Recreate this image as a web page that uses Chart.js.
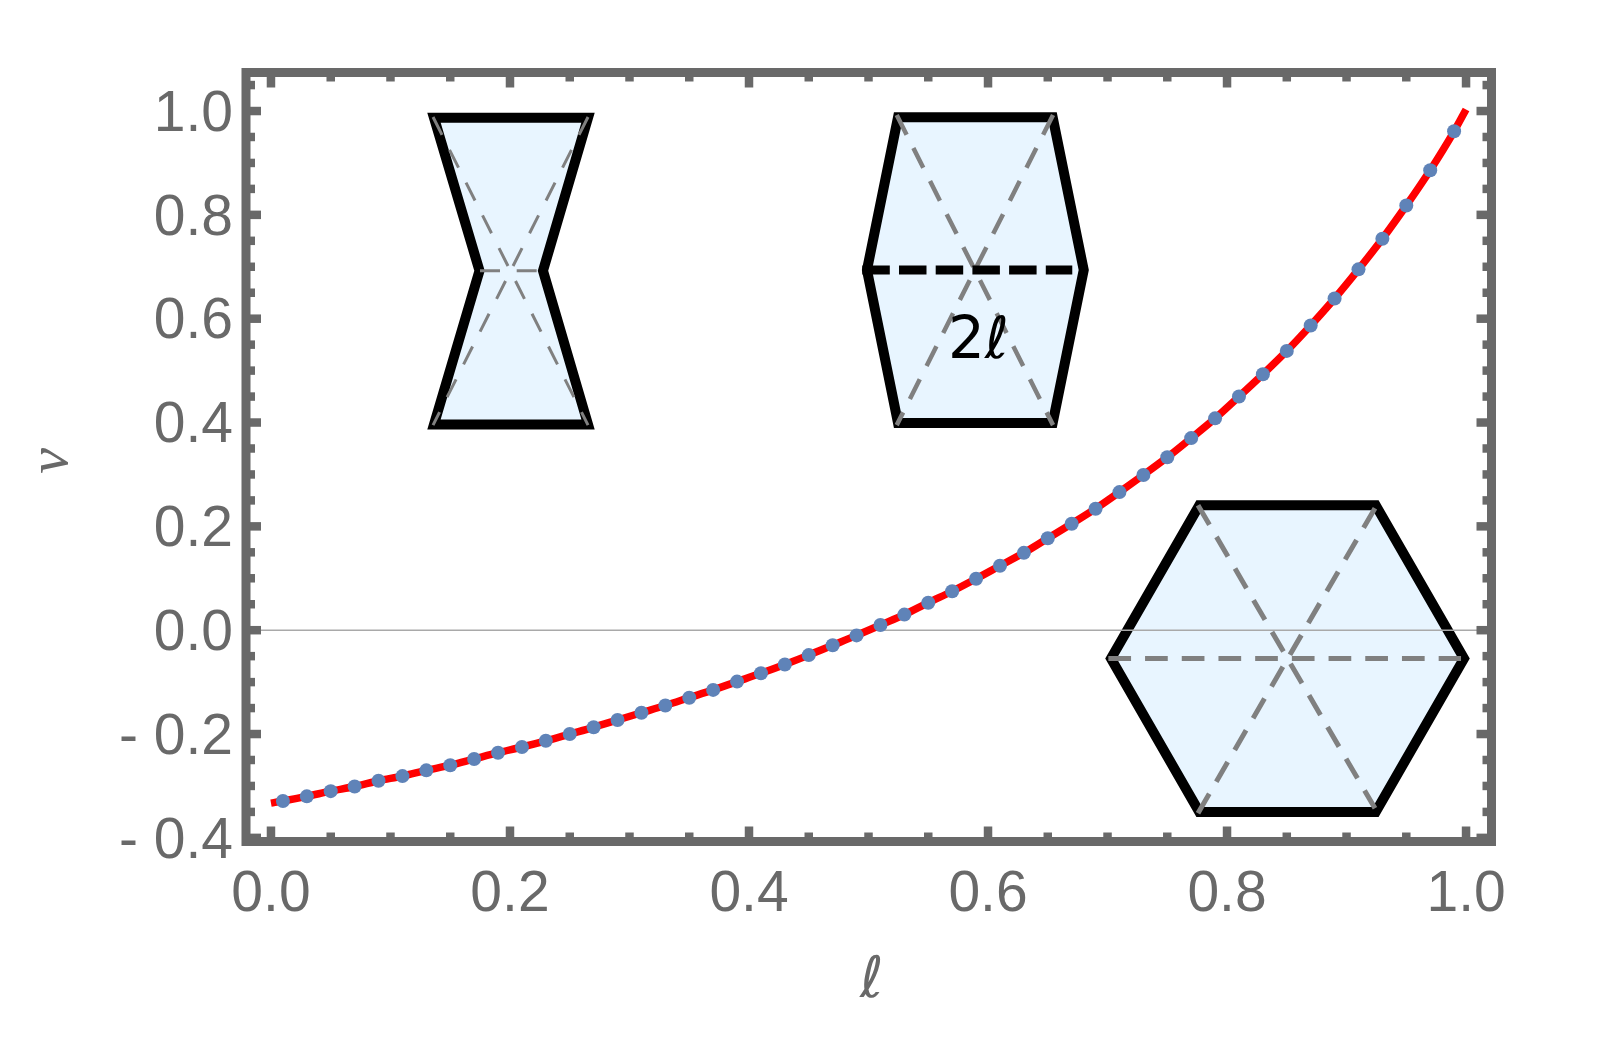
<!DOCTYPE html>
<html>
<head>
<meta charset="utf-8">
<title>nu vs l</title>
<script src="https://cdn.jsdelivr.net/npm/chart.js@4/dist/chart.umd.min.js"></script>
<style>
  html, body { margin: 0; padding: 0; background: #fff; }
  canvas { display: block; }
</style>
</head>
<body>
<canvas id="chart" width="1616" height="1037"></canvas>
<script>
// values
const pointL = [0.01, 0.03, 0.05, 0.07, 0.09, 0.11, 0.13, 0.15, 0.17, 0.19,
  0.21, 0.23, 0.25, 0.27, 0.29, 0.31, 0.33, 0.35, 0.37, 0.39,
  0.41, 0.43, 0.45, 0.47, 0.49, 0.51, 0.53, 0.55, 0.57, 0.59,
  0.61, 0.63, 0.65, 0.67, 0.69, 0.71, 0.73, 0.75, 0.77, 0.79,
  0.81, 0.83, 0.85, 0.87, 0.89, 0.91, 0.93, 0.95, 0.97, 0.99];
const pointNu = [-0.329, -0.320, -0.310, -0.301, -0.290, -0.281, -0.270, -0.260, -0.248, -0.236,
  -0.225, -0.213, -0.200, -0.187, -0.173, -0.159, -0.145, -0.130, -0.115, -0.099,
  -0.083, -0.066, -0.048, -0.029, -0.010, 0.010, 0.030, 0.053, 0.075, 0.099,
  0.124, 0.149, 0.177, 0.205, 0.234, 0.266, 0.299, 0.333, 0.370, 0.408,
  0.450, 0.493, 0.538, 0.587, 0.639, 0.695, 0.754, 0.818, 0.886, 0.961];
const curveStartL = [0.0];
const curveStartNu = [-0.333];
const curveEndL = [1.0];
const curveEndNu = [1.003];

const xTicks = [0, 0.2, 0.4, 0.6, 0.8, 1.0];
const xTickLabels = ['0.0', '0.2', '0.4', '0.6', '0.8', '1.0'];
const xMinor = [0.05, 0.1, 0.15, 0.25, 0.3, 0.35, 0.45, 0.5, 0.55, 0.65, 0.7, 0.75, 0.85, 0.9, 0.95];
const yTicks = [-0.4, -0.2, 0, 0.2, 0.4, 0.6, 0.8, 1.0];
const yTickLabels = ['- 0.4', '- 0.2', '0.0', '0.2', '0.4', '0.6', '0.8', '1.0'];
const yMinor = [-0.35, -0.3, -0.25, -0.15, -0.1, -0.05, 0.05, 0.1, 0.15, 0.25, 0.3, 0.35,
  0.45, 0.5, 0.55, 0.65, 0.7, 0.75, 0.85, 0.9, 0.95, 1.05];

// the three little cells, in axis units
const bowtie = [[0.1364, 0.9871], [0.2653, 0.9871], [0.2276, 0.6923], [0.2653, 0.3963], [0.1364, 0.3963], [0.1745, 0.6923]];
const bowtieDashes = [[[0.1356, 0.9884], [0.2653, 0.3950]], [[0.2653, 0.9884], [0.1356, 0.3950]], [[0.1749, 0.6923], [0.2276, 0.6923]]];
const middle = [[0.5247, 0.9881], [0.6541, 0.9881], [0.6801, 0.6936], [0.6541, 0.3992], [0.5247, 0.3992], [0.4987, 0.6936]];
const middleDashes = [[[0.5236, 0.9923], [0.6544, 0.3950]], [[0.6544, 0.9923], [0.5236, 0.3950]]];
const middleBar = [[0.4948, 0.6936], [0.6705, 0.6936]];
const middleLabel = [0.5941, 0.5241];
const hexagon = [[0.7768, 0.2405], [0.9244, 0.2405], [0.9983, -0.0545], [0.9244, -0.3501], [0.7768, -0.3501], [0.7029, -0.0545]];
const hexDashes = [[[0.7757, 0.2408], [0.9238, -0.3430]], [[0.9238, 0.2351], [0.7757, -0.3526]], [[0.7007, -0.0545], [0.9958, -0.0545]]];

const xTitle = 'ℓ';
const yTitle = 'ν';

const xMin = -0.0209, xMax = 1.0213;
const yMin = -0.407, yMax = 1.0742;

const GREY = '#696969';
const FONT = '"Liberation Sans", Arial, sans-serif';

function zip(xs, ys) {
  return xs.map((x, i) => ({ x: x, y: ys[i] }));
}

const insetPlugin = {
  id: 'insets',
  afterLayout(chart) {
    // labels sit a little below the tick in the original
    chart.scales.y.getLabelItems().forEach(item => { item.options.translation[1] += 4; });
  },
  beforeDatasetsDraw(chart) {
    const ctx = chart.ctx;
    const sx = chart.scales.x, sy = chart.scales.y;
    const px = (p) => [sx.getPixelForValue(p[0]), sy.getPixelForValue(p[1])];

    const cell = (verts) => {
      ctx.beginPath();
      verts.forEach((v, i) => {
        const p = px(v);
        if (i === 0) ctx.moveTo(p[0], p[1]); else ctx.lineTo(p[0], p[1]);
      });
      ctx.closePath();
      ctx.fillStyle = '#e8f5ff';
      ctx.fill();
      ctx.lineWidth = 10;
      ctx.lineJoin = 'miter';
      ctx.miterLimit = 10;
      ctx.strokeStyle = '#000';
      ctx.setLineDash([]);
      ctx.stroke();
    };
    const dashed = (seg, color, width, pattern) => {
      const a = px(seg[0]), b = px(seg[1]);
      ctx.beginPath();
      ctx.moveTo(a[0], a[1]);
      ctx.lineTo(b[0], b[1]);
      ctx.strokeStyle = color;
      ctx.lineWidth = width;
      ctx.setLineDash(pattern);
      ctx.stroke();
    };

    ctx.save();
    cell(bowtie);
    bowtieDashes.forEach(s => dashed(s, '#808080', 3, [20, 16.7]));
    cell(middle);
    middleDashes.forEach(s => dashed(s, '#808080', 4.5, [22, 15]));
    dashed(middleBar, '#000', 9, [27.5, 9.2]);
    cell(hexagon);
    hexDashes.forEach(s => dashed(s, '#808080', 5, [22.7, 14]));
    ctx.setLineDash([]);

    const lab = px(middleLabel);
    ctx.fillStyle = '#000';
    ctx.textBaseline = 'alphabetic';
    ctx.textAlign = 'right';
    ctx.font = '58px "DejaVu Sans"';
    ctx.fillText('2', lab[0] + 4, lab[1]);
    ctx.textAlign = 'left';
    ctx.font = 'italic 58px "DejaVu Sans"';
    ctx.fillText('ℓ', lab[0] + 4, lab[1]);
    ctx.restore();
  },
  afterDatasetsDraw(chart) {
    const ctx = chart.ctx;
    const a = chart.chartArea;
    const sx = chart.scales.x, sy = chart.scales.y;
    const edge = 4.5;
    const major = edge + 10.5, minor = edge + 4.5;

    ctx.save();
    ctx.strokeStyle = GREY;
    ctx.lineWidth = 8.5;
    const mark = (x1, y1, x2, y2) => {
      ctx.beginPath();
      ctx.moveTo(x1, y1);
      ctx.lineTo(x2, y2);
      ctx.stroke();
    };
    const xMarks = (vals, len) => vals.forEach(v => {
      const x = sx.getPixelForValue(v);
      mark(x, a.bottom, x, a.bottom - len);
      mark(x, a.top, x, a.top + len);
    });
    const yMarks = (vals, len) => vals.forEach(v => {
      const y = sy.getPixelForValue(v);
      mark(a.left, y, a.left + len, y);
      mark(a.right, y, a.right - len, y);
    });
    xMarks(xTicks, major);
    xMarks(xMinor, minor);
    yMarks(yTicks, major);
    yMarks(yMinor, minor);

    ctx.lineWidth = 9;
    ctx.lineJoin = 'miter';
    ctx.strokeRect(a.left, a.top, a.right - a.left, a.bottom - a.top);

    // axis titles, the built in ones cannot be nudged off centre
    ctx.fillStyle = GREY;
    ctx.textAlign = 'center';
    ctx.textBaseline = 'alphabetic';
    ctx.font = 'italic 57px "DejaVu Sans"';
    ctx.fillText(xTitle, (a.left + a.right) / 2 + 3, a.bottom + 155);
    ctx.translate(a.left - 179, (a.top + a.bottom) / 2 + 4);
    ctx.rotate(-Math.PI / 2);
    ctx.font = 'italic 58px "Liberation Serif"';
    ctx.fillText(yTitle, 0, 0);
    ctx.restore();
  }
};

new Chart(document.getElementById('chart'), {
  type: 'scatter',
  data: {
    datasets: [
      {
        label: 'axis',
        data: zip([xMin, xMax], [0, 0]),
        showLine: true,
        borderColor: '#a9a9a9',
        borderWidth: 1.5,
        pointRadius: 0,
        order: 3
      },
      {
        label: 'curve',
        data: zip(curveStartL.concat(pointL, curveEndL), curveStartNu.concat(pointNu, curveEndNu)),
        showLine: true,
        borderColor: '#ff0000',
        borderWidth: 7.5,
        cubicInterpolationMode: 'monotone',
        pointRadius: 0,
        order: 2
      },
      {
        label: 'points',
        data: zip(pointL, pointNu),
        showLine: false,
        backgroundColor: '#5f83b8',
        borderWidth: 0,
        pointRadius: 7,
        order: 1
      }
    ]
  },
  options: {
    responsive: false,
    animation: false,
    layout: {
      autoPadding: false,
      padding: { left: 0, top: 72.5, right: 124.5, bottom: 0 }
    },
    plugins: { legend: { display: false }, tooltip: { enabled: false } },
    scales: {
      x: {
        type: 'linear',
        min: xMin,
        max: xMax,
        afterFit: (s) => { s.height = 195.5; },
        afterBuildTicks: (s) => { s.ticks = xTicks.map(v => ({ value: v })); },
        grid: { display: false, drawTicks: false },
        border: { display: false },
        ticks: {
          autoSkip: false,
          maxRotation: 0,
          padding: 20,
          color: GREY,
          font: { family: FONT, size: 57 },
          callback: (v, i) => xTickLabels[i]
        }
      },
      y: {
        type: 'linear',
        min: yMin,
        max: yMax,
        afterFit: (s) => { s.width = 246; },
        afterBuildTicks: (s) => { s.ticks = yTicks.map(v => ({ value: v })); },
        grid: { display: false, drawTicks: false },
        border: { display: false },
        ticks: {
          autoSkip: false,
          padding: 13,
          color: GREY,
          font: { family: FONT, size: 57 },
          callback: (v, i) => yTickLabels[i]
        }
      }
    }
  },
  plugins: [insetPlugin]
});
</script>
</body>
</html>
